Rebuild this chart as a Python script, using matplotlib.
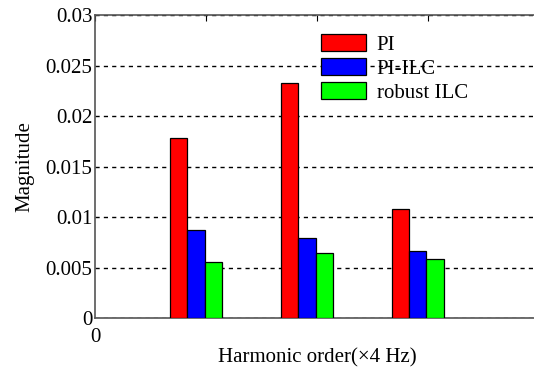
import numpy as np
import matplotlib.pyplot as plt

plt.rcParams['font.family'] = ['Liberation Serif', 'DejaVu Serif']
plt.rcParams['font.size'] = 15

harmonics = [1, 2, 3]
series = ['PI', 'PI-ILC', 'robust ILC']
colors = ['#ff0000', '#0000ff', '#00ff00']
pi_vals = [0.0178, 0.0233, 0.0108]
pi_ilc_vals = [0.0087, 0.0079, 0.0066]
robust_ilc_vals = [0.0055, 0.0064, 0.0058]

fig = plt.figure(figsize=(5.34, 3.79), dpi=100)
ax = fig.add_axes([0.178, 0.161, 0.831, 0.799])

x = np.array(harmonics) - 0.09
w = 0.155
for i, (vals, name, c) in enumerate(zip([pi_vals, pi_ilc_vals, robust_ilc_vals], series, colors)):
    ax.bar(x + (i - 1) * w, vals, w, color=c, edgecolor='black', linewidth=0.9, label=name, zorder=3)

ax.set_xlim(0, 4)
ax.set_ylim(0, 0.03)
ax.set_yticks([0, 0.005, 0.01, 0.015, 0.02, 0.025, 0.03])
ax.set_yticklabels(['0', '0.005', '0.01', '0.015', '0.02', '0.025', '0.03'])
ax.set_xticks([0, 1, 2, 3])
ax.set_xticklabels(['0', '', '', ''])
ax.tick_params(axis='x', direction='in', top=True, bottom=False, length=4, pad=7)
ax.tick_params(axis='y', direction='in', left=False, length=4, pad=2)
ax.yaxis.grid(True, linestyle=(0, (3, 3)), color='black', linewidth=1, zorder=1)
for s in ax.spines.values():
    s.set_color('#555555')
    s.set_linewidth(1.2)

ax.set_xlabel('Harmonic order(\u00d74 Hz)', labelpad=1)
ax.set_ylabel('Magnitude', labelpad=8)

ax.legend(loc='upper left', bbox_to_anchor=(0.466, 1.0), frameon=False,
          handlelength=2.2, handleheight=0.9, labelspacing=0.15, handletextpad=0.5)

plt.savefig('out.png', dpi=100)
